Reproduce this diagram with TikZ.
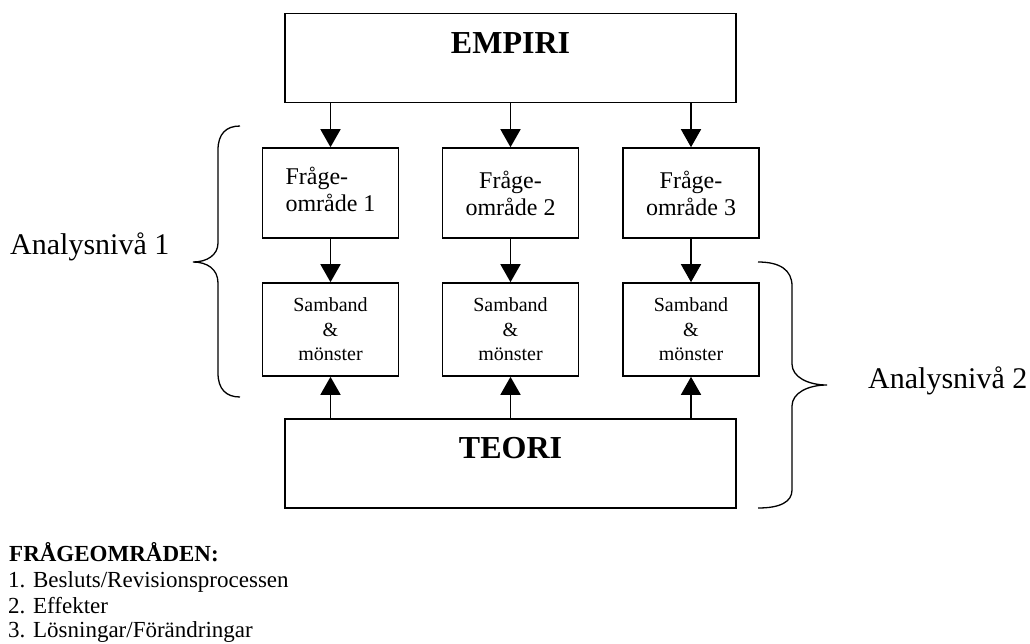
\documentclass[tikz,border=0pt]{standalone}
\usepackage{fontspec}
\setmainfont{Liberation Serif}
\usetikzlibrary{arrows.meta}
\tikzset{
  bigbox/.style={draw, line width=1.6pt, minimum width=451pt, minimum height=89pt, inner sep=0pt},
  qbox/.style={draw, line width=1.6pt, minimum width=136pt, minimum height=90pt, inner sep=0pt, align=center, font=\fontsize{24}{27}\selectfont},
  sbox/.style={draw, line width=1.6pt, minimum width=136pt, minimum height=93pt, inner sep=0pt, align=center, font=\fontsize{20}{24.5}\selectfont},
  bigtext/.style={inner sep=0pt, anchor=base, font=\fontsize{32}{36}\selectfont\bfseries},
  arr/.style={line width=1.6pt, -{Triangle[width=20pt,length=18pt]}},
  bracepath/.style={line width=1.3pt},
  lvl/.style={inner sep=0pt, anchor=base west, font=\fontsize{30}{34}\selectfont},
  note/.style={inner sep=0pt, anchor=base west, font=\fontsize{23}{27}\selectfont},
}
\begin{document}
\begin{tikzpicture}[x=1pt,y=-1pt]
\useasboundingbox (0,0) rectangle (1030,643);
% big boxes
\node[bigbox] (empiri) at (510.5,58) {};
\node[bigtext] (empiritext) at (510.5,53) {EMPIRI};
\node[bigbox] (teori) at (510.5,463.5) {};
\node[bigtext] (teoritext) at (510.5,458) {TEORI};
% question boxes
\node[qbox] (f1) at (330.5,193) {\begin{tabular}{@{}l@{}}Fråge-\\område 1\end{tabular}};
\node[qbox] (f2) at (510.5,193) {Fråge-\\område 2};
\node[qbox] (f3) at (691,193) {Fråge-\\område 3};
% samband boxes
\node[sbox] (s1) at (330.5,329.5) {Samband\\\&\\mönster};
\node[sbox] (s2) at (510.5,329.5) {Samband\\\&\\mönster};
\node[sbox] (s3) at (691,329.5) {Samband\\\&\\mönster};
% arrows
\foreach \i in {1,2,3}{
  \draw[arr] (f\i |- empiri.south) -- (f\i.north);
  \draw[arr] (f\i.south) -- (s\i.north);
  \draw[arr] (s\i |- teori.north) -- (s\i.south);
}
% left brace
\draw[bracepath] (240,126) .. controls (226,126) and (218,134) .. (218,150) -- (218,243)
  .. controls (218,255) and (207,262) .. (193,262)
  .. controls (207,262) and (218,269) .. (218,283) -- (218,373)
  .. controls (218,389) and (226,397) .. (240,397);
% right brace
\draw[bracepath] (758,262) .. controls (780,262) and (792,270) .. (792,286) -- (792,364)
  .. controls (792,377) and (808,385) .. (827,385)
  .. controls (808,385) and (792,393) .. (792,406) -- (792,490)
  .. controls (792,502) and (780,508) .. (758,508);
% level labels
\node[lvl] (lvl1) at (10,254) {Analysnivå 1};
\node[lvl] (lvl2) at (868,388) {Analysnivå 2};
% legend
\node[note, font=\fontsize{23}{27}\selectfont\bfseries] (leg0) at (9,561) {FRÅGEOMRÅDEN:};
\node[note] (leg1) at (8,587) {1. Besluts/Revisionsprocessen};
\node[note] (leg2) at (8,613) {2. Effekter};
\node[note] (leg3) at (8,637.5) {3. Lösningar/Förändringar};
\end{tikzpicture}
\end{document}
